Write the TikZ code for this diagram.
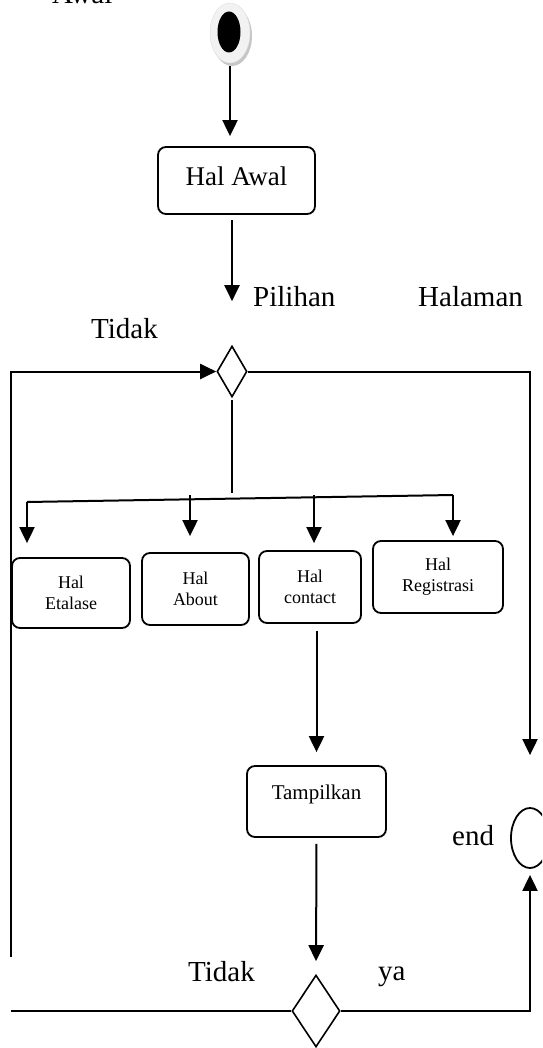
\documentclass[tikz,border=0pt]{standalone}
\usepackage{fontspec}
\setmainfont{Liberation Serif}
\usetikzlibrary{arrows.meta,shapes.geometric}
\begin{document}
\begin{tikzpicture}[x=1pt,y=-1pt,
  line/.style={line width=2pt},
  arr/.style={line width=2pt,-{Triangle[width=15pt,length=16pt]}},
  box/.style={draw,line width=1.8pt,rounded corners=8pt,inner sep=0pt,align=center},
  smallbox/.style={box,font=\fontsize{18}{21}\selectfont},
  decision/.style={draw,diamond,line width=1.6pt,inner sep=0pt},
  lbl/.style={inner sep=0pt,font=\fontsize{29}{33}\selectfont}
]
\useasboundingbox (0,0) rectangle (542,1048);
\clip (0,0) rectangle (542,1048);

% start state
\node[ellipse,fill=gray!45,minimum width=40pt,minimum height=60pt,inner sep=0pt] (startshadow) at (232,36) {};
\node[ellipse,fill=gray!10,draw=gray!25,minimum width=40pt,minimum height=60pt,inner sep=0pt] (start) at (230,33) {};
\node[ellipse,fill=black,minimum width=23pt,minimum height=41pt,inner sep=0pt] (startdot) at (229,32) {};

% activities
\node[box,minimum width=157pt,minimum height=67pt,font=\fontsize{27}{30}\selectfont,
      text height=19pt,text depth=8pt] (halawal) at (236.5,180.5) {Hal Awal};
\node[smallbox,minimum width=118pt,minimum height=70pt] (etalase) at (71,593) {Hal\\Etalase};
\node[smallbox,minimum width=107pt,minimum height=72pt] (about) at (195.5,589) {Hal\\About};
\node[smallbox,minimum width=102pt,minimum height=72pt] (contact) at (310,587) {Hal\\contact};
\node[smallbox,minimum width=130pt,minimum height=72pt] (registrasi) at (438,577) {Hal\\Registrasi};
\node[box,minimum width=139pt,minimum height=71pt,font=\fontsize{21}{24}\selectfont,
      text height=14pt,text depth=19pt] (tamp) at (316.5,801.5) {Tampilkan};

% decisions and end state
\node[decision,minimum width=30pt,minimum height=51pt] (d1) at (232,371.5) {};
\node[decision,minimum width=48pt,minimum height=72pt] (d2) at (316,1011) {};
\node[ellipse,draw,line width=1.8pt,minimum width=38pt,minimum height=60pt,inner sep=0pt] (endc) at (530,838) {};

% labels
\node[lbl,anchor=base west] (awal) at (52,4) {Awal};
\node[lbl,anchor=base west] (pilihan) at (253,306) {Pilihan};
\node[lbl,anchor=base west] (halaman) at (418,306) {Halaman};
\node[lbl,anchor=base west] (tidak1) at (91,338) {Tidak};
\node[lbl,anchor=base west] (tidak2) at (188,981) {Tidak};
\node[lbl,anchor=base west] (ya) at (378,980) {ya};
\node[lbl,anchor=base west] (endlbl) at (452,845) {end};

% free ends of connectors
\coordinate (loopL) at (11,957);
\coordinate (trunk) at (232,493);
\coordinate (brL) at (27,502);
\coordinate (brA) at (190,495);
\coordinate (brC) at (314,495);
\coordinate (brR) at (453,495);

% flow
\draw[arr,shorten <=3pt,shorten >=10pt] (start.south) -- (start.south |- halawal.north);
\draw[arr,shorten <=5pt,shorten >=44pt] (halawal.south -| d1.north) -- (d1.north);
\draw[arr] (loopL) |- (d1.west);
\draw[arr,shorten >=52pt] (d1.east) -| (endc.north);
\draw[line,shorten <=2pt] (d1.south) -- (trunk);
\draw[line] (brL) -- (brR);
\draw[arr,shorten >=14pt] (brL) -- (brL |- etalase.north);
\draw[arr,shorten >=16pt] (brA) -- (brA |- about.north);
\draw[arr,shorten >=7pt] (brC) -- (brC |- contact.north);
\draw[arr,shorten >=4pt] (brR) -- (brR |- registrasi.north);
\draw[arr,shorten <=7pt,shorten >=13pt] (contact.south -| tamp.north) -- (tamp.north);
\draw[arr,shorten <=6pt,shorten >=13pt] (tamp.south) -- (d2.north);
\draw[line] (d2.west) -- (d2.west -| loopL);
\draw[arr,shorten >=6pt] (d2.east) -| (endc.south);
\end{tikzpicture}
\end{document}
